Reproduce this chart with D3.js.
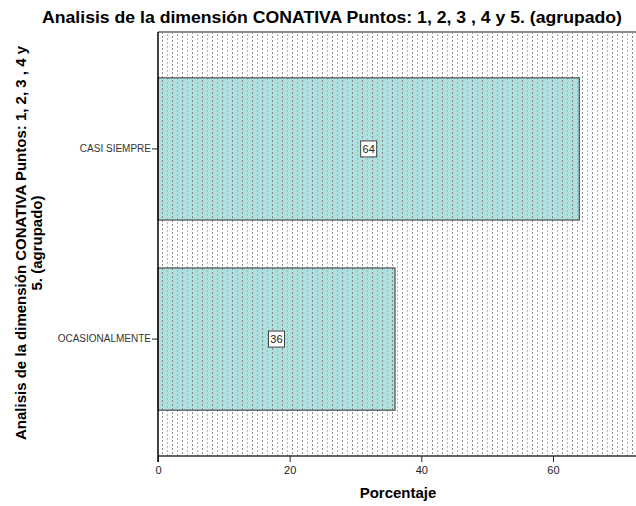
<!DOCTYPE html>
<html>
<head>
<meta charset="utf-8">
<script src="https://cdn.jsdelivr.net/npm/d3@7"></script>
<style>
  body { margin: 0; background: #fff; }
  svg { display: block; font-family: "Liberation Sans", Arial, sans-serif; }
</style>
</head>
<body>
<div id="chart"></div>
<script>
const categories = ['CASI SIEMPRE', 'OCASIONALMENTE'];
const values = [64, 36];
const xTicks = [0, 20, 40, 60];

const width = 636;
const height = 506;
const margin = { top: 32, left: 158, bottom: 50 };
const plotBottom = 456;

const svg = d3.select('#chart')
  .append('svg')
  .attr('width', width)
  .attr('height', height);

// dotted fill like the spss chart
const defs = svg.append('defs');
const pat = defs.append('pattern')
  .attr('id', 'dots')
  .attr('patternUnits', 'userSpaceOnUse')
  .attr('width', 10)
  .attr('height', 4);
pat.append('rect').attr('x', 2).attr('y', 0).attr('width', 1).attr('height', 2).attr('fill', '#8a8a8a');
pat.append('rect').attr('x', 7).attr('y', 2).attr('width', 1).attr('height', 2).attr('fill', '#b4b4b4');

const x = d3.scaleLinear()
  .domain([0, 80])
  .range([margin.left, margin.left + 80 * 6.583]);

const y = d3.scaleBand()
  .domain(categories)
  .range([margin.top, plotBottom])
  .paddingInner(0.252)
  .paddingOuter(0.241);

// plot background
svg.append('rect')
  .attr('x', margin.left)
  .attr('y', margin.top)
  .attr('width', width - margin.left + 10)
  .attr('height', plotBottom - margin.top)
  .attr('fill', 'url(#dots)');

svg.append('line')
  .attr('x1', margin.left).attr('x2', width)
  .attr('y1', margin.top).attr('y2', margin.top)
  .attr('stroke', '#8c8c8c')
  .attr('stroke-width', 2);

const bars = svg.append('g');
bars.selectAll('rect.fill')
  .data(values)
  .enter()
  .append('rect')
  .attr('x', x(0))
  .attr('y', (d, i) => y(categories[i]))
  .attr('width', d => x(d) - x(0))
  .attr('height', y.bandwidth())
  .attr('fill', '#aee0df');

bars.selectAll('rect.pat')
  .data(values)
  .enter()
  .append('rect')
  .attr('x', x(0))
  .attr('y', (d, i) => y(categories[i]))
  .attr('width', d => x(d) - x(0))
  .attr('height', y.bandwidth())
  .attr('fill', 'url(#dots)')
  .attr('stroke', '#4a4a4a')
  .attr('stroke-width', 1.2);

// value labels in small boxes
const labels = svg.append('g')
  .selectAll('g')
  .data(values)
  .enter()
  .append('g')
  .attr('transform', (d, i) => `translate(${x(d / 2)}, ${y(categories[i]) + y.bandwidth() / 2})`);

labels.append('rect')
  .attr('x', -8)
  .attr('y', -8)
  .attr('width', 16)
  .attr('height', 16)
  .attr('fill', '#fff')
  .attr('stroke', '#444')
  .attr('stroke-width', 1);

labels.append('text')
  .attr('text-anchor', 'middle')
  .attr('dy', '0.36em')
  .style('font-size', '11px')
  .attr('fill', '#222')
  .text(d => d);

// axes
const xAxis = svg.append('g')
  .attr('transform', `translate(0,${plotBottom})`)
  .call(d3.axisBottom(x).tickValues(xTicks).tickSize(6).tickSizeOuter(0));
xAxis.select('.domain').attr('stroke', '#333').attr('stroke-width', 1.6)
  .attr('d', `M${margin.left},0H${width + 5}`);
xAxis.selectAll('.tick line').attr('stroke', '#222');
xAxis.selectAll('.tick text')
  .style('font-size', '11px')
  .attr('fill', '#222')
  .attr('dy', '0.85em');

const yAxis = svg.append('g')
  .attr('transform', `translate(${margin.left},0)`)
  .call(d3.axisLeft(y).tickSize(6).tickSizeOuter(0));
yAxis.select('.domain').attr('stroke', '#111').attr('stroke-width', 1.6)
  .attr('d', `M0,${margin.top}V${plotBottom + 6}`);
yAxis.selectAll('.tick line').attr('stroke', '#222');
yAxis.selectAll('.tick text')
  .style('font-size', '10px')
  .attr('fill', '#333')
  .attr('x', -7);

// titles
svg.append('text')
  .attr('x', 332)
  .attr('y', 23)
  .attr('text-anchor', 'middle')
  .attr('textLength', 580)
  .attr('lengthAdjust', 'spacingAndGlyphs')
  .style('font-size', '17px')
  .style('font-weight', 'bold')
  .text('Analisis de la dimensión CONATIVA Puntos: 1, 2, 3 , 4 y 5. (agrupado)');

svg.append('text')
  .attr('x', 398)
  .attr('y', 498)
  .attr('text-anchor', 'middle')
  .style('font-size', '15px')
  .style('font-weight', 'bold')
  .text('Porcentaje');

const yTitle = svg.append('text')
  .attr('transform', 'translate(26,243) rotate(-90)')
  .attr('text-anchor', 'middle')
  .style('font-size', '15px')
  .style('font-weight', 'bold');
yTitle.append('tspan').attr('x', 0).attr('y', 0)
  .text('Analisis de la dimensión CONATIVA Puntos: 1, 2, 3 , 4 y');
yTitle.append('tspan').attr('x', 0).attr('y', 16)
  .text('5. (agrupado)');
</script>
</body>
</html>
